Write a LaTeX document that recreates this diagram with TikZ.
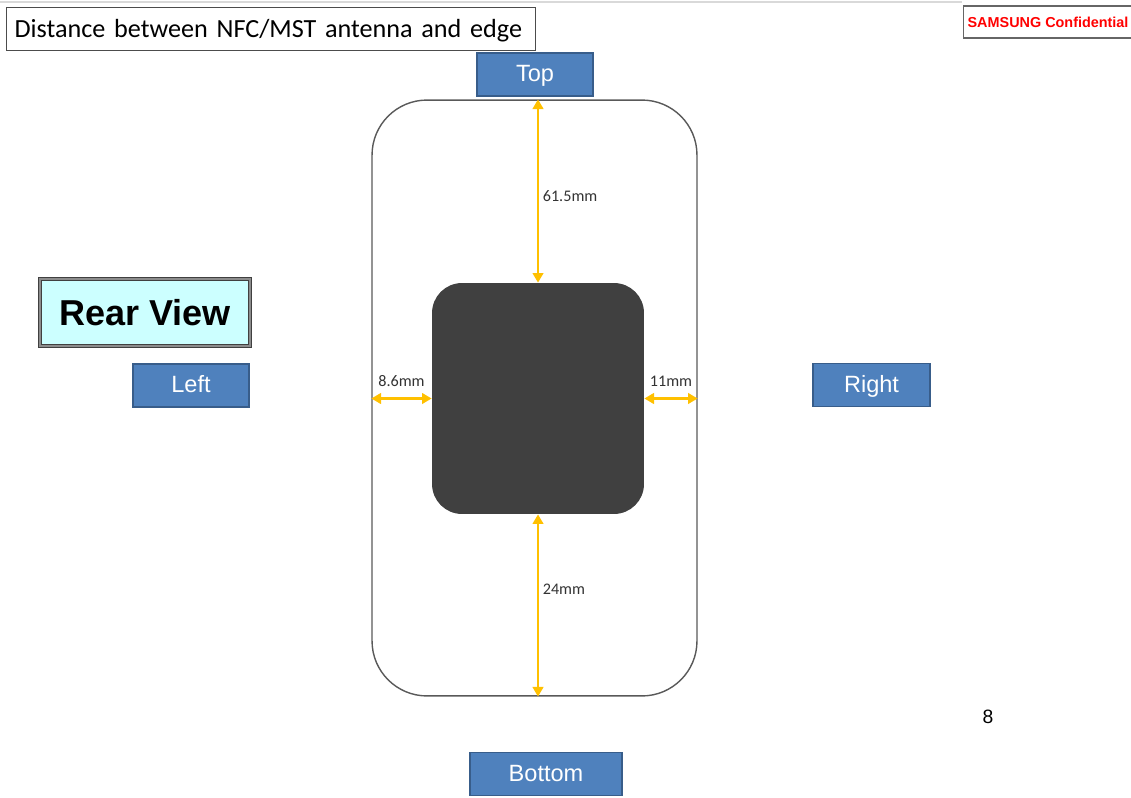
\documentclass[tikz,border=0pt]{standalone}
\usepackage{fontspec}
\setmainfont{Liberation Sans}
\newfontfamily\calibri{Carlito}
\usetikzlibrary{arrows.meta}
\definecolor{sideblue}{HTML}{4F81BD}
\definecolor{sideedge}{HTML}{385D8A}
\definecolor{dimorange}{HTML}{FFC000}
\definecolor{antennagray}{HTML}{404040}
\definecolor{rearcyan}{HTML}{CCFFFF}

\begin{document}
\begin{tikzpicture}[x=0.02cm, y=-0.02cm,
    sidebox/.style={draw=sideedge, line width=0.9pt, fill=sideblue, text=white,
      font=\fontsize{13.4}{14}\selectfont, inner sep=0pt, minimum height=0.86cm,
      text height=11pt, text depth=2.5pt},
    dimline/.style={draw=dimorange, line width=1.5pt,
      {Triangle[length=5.5pt,width=6pt]}-{Triangle[length=5.5pt,width=6pt]}},
    dimlabel/.style={font=\calibri\fontsize{9.2}{10}\selectfont, text=black!80, inner sep=2pt}]
  \useasboundingbox (0,0) rectangle (1131,797);
  \draw[black!15, line width=1pt] (0,2) -- (962,2);

  \node[draw=black!70, line width=0.7pt, anchor=north west, inner xsep=0.16cm, inner ysep=0pt,
    text width=10.26cm, align=left, minimum height=0.86cm, text height=12pt, text depth=3pt,
    font=\calibri\fontsize{14.9}{16}\selectfont] (title) at (6,7)
    {Distance between NFC/MST antenna and edge};
  \node[draw=black!60, line width=0.7pt, anchor=west, inner xsep=0.08cm, inner ysep=0pt,
    minimum height=0.64cm, text=red, font=\bfseries\fontsize{8.2}{9}\selectfont] (conf) at (963,22)
    {SAMSUNG Confidential};

  \node[draw=black!75, double=black!45, double distance=0.8pt, line width=0.9pt, fill=rearcyan,
    minimum width=4.2cm, minimum height=1.34cm, inner sep=0pt,
    font=\bfseries\fontsize{20.5}{22}\selectfont] (rear) at (145,312.5) {Rear View};

  \node[draw=black!65, line width=0.8pt, rounded corners=1.1cm, minimum width=6.5cm,
    minimum height=11.92cm, inner sep=0pt] (phone) at (534.5,398) {};
  \node[fill=antennagray, rounded corners=0.6cm, minimum width=4.24cm,
    minimum height=4.62cm, inner sep=0pt] (antenna) at (538,398.5) {};

  \node[sidebox, minimum width=2.32cm] (top) at (535,74.5) {Top};
  \node[sidebox, minimum width=2.32cm] (left) at (191,385.5) {Left};
  \node[sidebox, minimum width=2.34cm] (right) at (871.5,385) {Right};
  \node[sidebox, minimum width=3.04cm] (bottom) at (546,774) {Bottom};

  \draw[dimline] (antenna.north) -- node[dimlabel, right, pos=0.47] {61.5mm} (antenna.north |- phone.north);
  \draw[dimline] (antenna.south) -- node[dimlabel, right, pos=0.41] {24mm} (antenna.south |- phone.south);
  \draw[dimline] (antenna.west) -- node[dimlabel, above=4pt] {8.6mm} (antenna.west -| phone.west);
  \draw[dimline] (antenna.east) -- node[dimlabel, above=4pt] {11mm} (antenna.east -| phone.east);

  \node[font=\fontsize{11}{12}\selectfont] (page) at (988,717) {8};
\end{tikzpicture}
\end{document}
